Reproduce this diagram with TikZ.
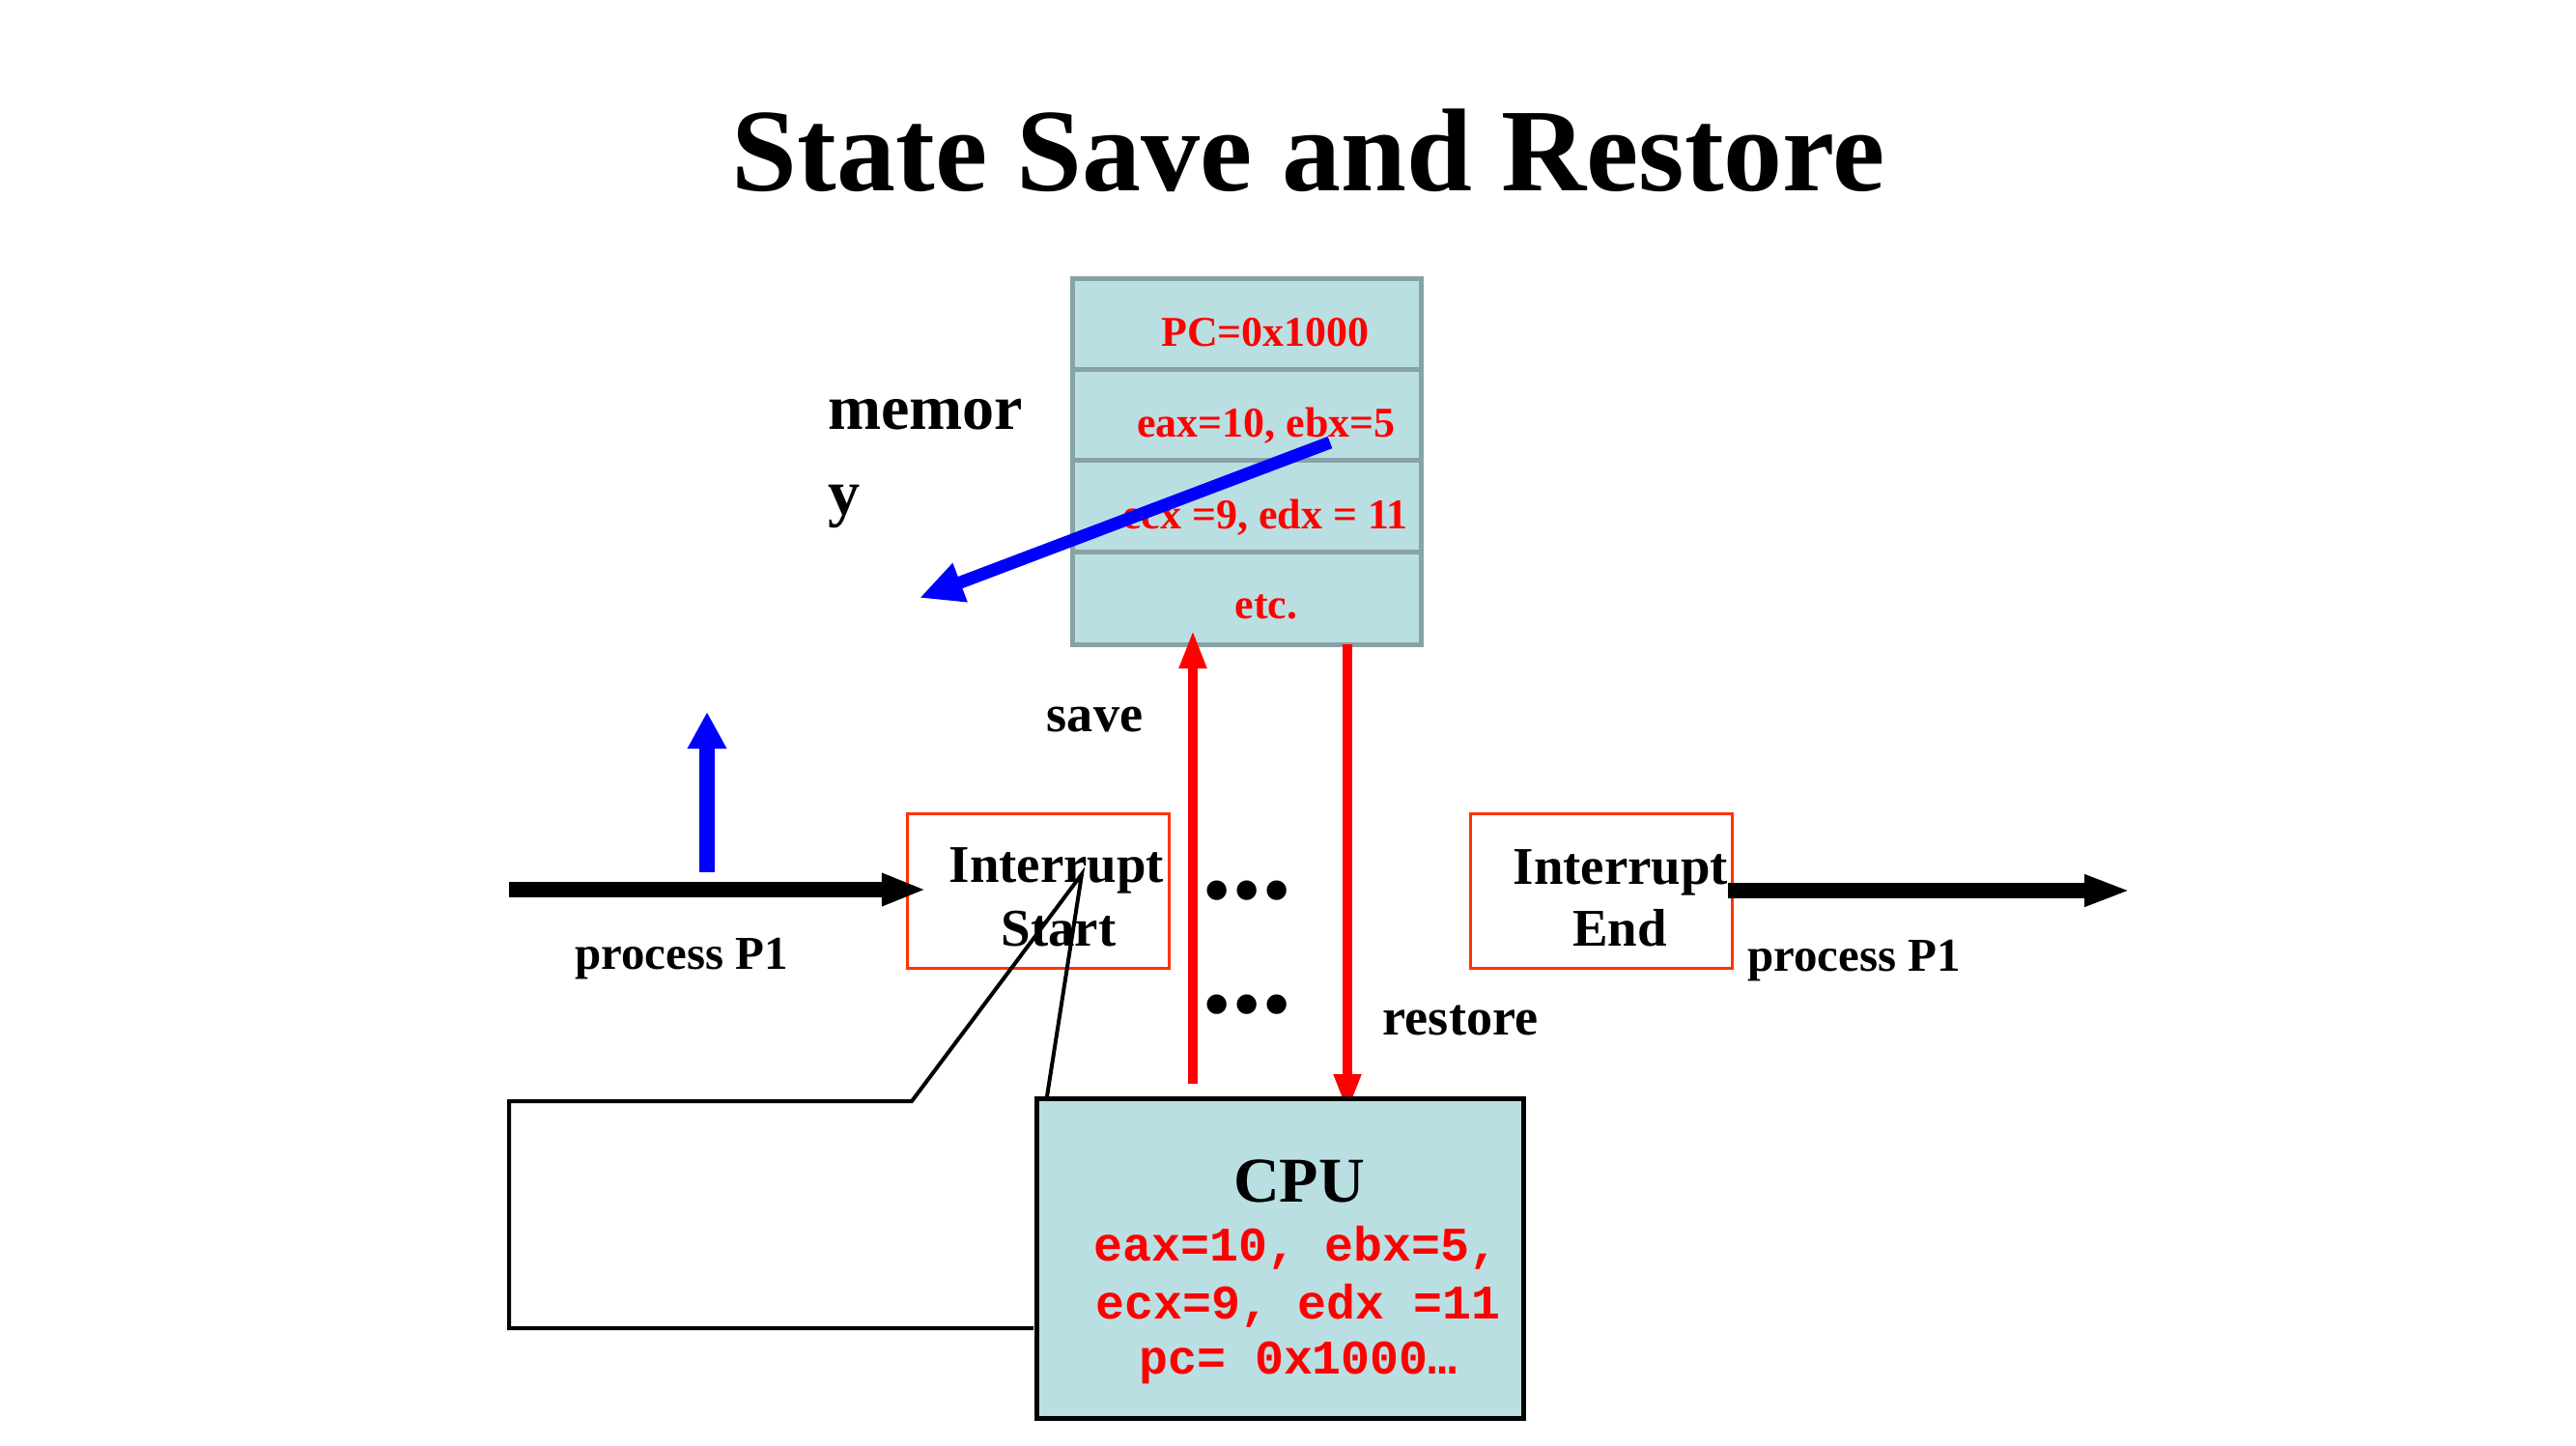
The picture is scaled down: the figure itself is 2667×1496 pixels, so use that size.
\documentclass[tikz,border=0pt]{standalone}
\usepackage{fontspec}
\setmainfont{Liberation Serif}
\setmonofont{Liberation Mono}
\usetikzlibrary{arrows.meta}
\definecolor{cellfill}{HTML}{BADFE2}
\definecolor{cellline}{HTML}{87A3A5}
\definecolor{boxred}{HTML}{FF3300}
\newcommand{\fsz}[1]{\fontsize{#1pt}{#1pt}\selectfont}
\begin{document}
\begin{tikzpicture}[x=0.01cm,y=-0.01cm,
  txt/.style={inner sep=0pt, outer sep=0pt, anchor=base, font=\bfseries},
  cell/.style={draw=cellline, fill=cellfill, line width=1.42pt, minimum width=3.6cm, inner sep=0pt, outer sep=0pt},
  memtxt/.style={txt, text=red, font=\fsz{12.5}\bfseries},
  lbl/.style={txt, font=\fsz{15.4}\bfseries},
  intbox/.style={draw=boxred, line width=0.85pt, minimum width=2.7cm, minimum height=1.59cm, inner sep=0pt, outer sep=0pt},
  inttxt/.style={txt, font=\fsz{15.6}\bfseries},
  proctxt/.style={txt, font=\fsz{13.9}\bfseries},
  regtxt/.style={txt, text=red, font=\fsz{14.2}\ttfamily\bfseries},
  blackarrow/.style={draw=black, line width=0.16cm},
  redarrow/.style={draw=red, line width=0.105cm, -{Triangle[length=0.40cm,width=0.26cm]}},
  bluearrow/.style={draw=blue},
  dotstxt/.style={txt, font=\fsz{35.6}\bfseries}
]
\useasboundingbox (0,0) rectangle (2667,1496);

% title
\node[txt, font=\fsz{34.7}\bfseries] (title) at (1355,197) {State Save and Restore};

% memory cells
\node[cell, minimum height=0.94cm] (m1) at (1291,336) {};
\node[cell, minimum height=0.94cm] (m2) at (1291,430) {};
\node[cell, minimum height=0.95cm] (m3) at (1291,524.5) {};
\node[cell, minimum height=0.95cm] (m4) at (1291,619.5) {};
\node[memtxt] (t1) at (1310,358) {PC=0x1000};
\node[memtxt] (t2) at (1311,452) {eax=10, ebx=5};
\node[memtxt] (t3) at (1310,547) {ecx =9, edx = 11};
\node[memtxt] (t4) at (1311,640) {etc.};

% memory label
\node[txt, anchor=base west, font=\fsz{18.8}\bfseries] (mem1) at (857,444) {memor};
\node[txt, anchor=base west, font=\fsz{18.8}\bfseries] (mem2) at (857,532) {y};

% blue diagonal arrow
\coordinate (bs) at (1377,458);
\coordinate (be) at (952,619);
\draw[bluearrow, line width=0.13cm, -{Triangle[length=0.45cm,width=0.40cm]}] (bs) -- (be);

% blue vertical arrow
\coordinate (vb) at (732,903);
\coordinate (vt) at (732,737);
\draw[bluearrow, line width=0.16cm, -{Triangle[length=0.38cm,width=0.38cm]}] (vb) -- (vt);

% interrupt boxes
\node[intbox] (is) at (1075,922.5) {};
\node[intbox] (ie) at (1658,922.5) {};
\node[inttxt] (is1) at (1094,913) {Interrupt};
\node[inttxt] (is2) at (1096,979) {Start};
\node[inttxt] (ie1) at (1678,915) {Interrupt};
\node[inttxt] (ie2) at (1677,979) {End};

% process arrows
\coordinate (pl) at (527,921);
\coordinate (pt) at (959,921);
\draw[blackarrow, -{Triangle[length=0.46cm,width=0.31cm]}] (pl) -- (pt);
\coordinate (rs) at (1789,922);
\coordinate (rt) at (2206,922);
\draw[blackarrow, -{Triangle[length=0.48cm,width=0.30cm]}] (rs) -- (rt);
\node[proctxt] (p1) at (705.5,1003) {process P1};
\node[proctxt] (p2) at (1919.5,1005) {process P1};

% save / restore
\coordinate (sb) at (1235,1122);
\coordinate (st) at (1235,652);
\draw[redarrow] (sb) -- (st);
\coordinate (rb) at (1395,667);
\coordinate (re) at (1395,1152);
\draw[redarrow] (rb) -- (re);
\node[lbl] (save) at (1133.5,757) {save};
\node[lbl] (restore) at (1512,1071) {restore};

% dots
\node[dotstxt] (d1) at (1291,930) {...};
\node[dotstxt] (d2) at (1291,1048) {...};

% callout
\coordinate (c1) at (1070,1375);
\coordinate (c2) at (527,1375);
\coordinate (c3) at (527,1140);
\coordinate (c4) at (944,1140);
\coordinate (c5) at (1120,905);
\coordinate (c6) at (1084,1135);
\draw[line width=0.04cm, black] (c1) -- (c2) -- (c3) -- (c4) -- (c5) -- (c6);

% CPU
\node[draw=black, fill=cellfill, line width=1.42pt, minimum width=5.04cm, minimum height=3.31cm, inner sep=0pt, outer sep=0pt] (cpu) at (1325.5,1303) {};
\node[txt, font=\fsz{18.8}\bfseries] (cpul) at (1345,1244) {CPU};
\node[regtxt] (r1) at (1342,1305) {eax=10, ebx=5,};
\node[regtxt] (r2) at (1344,1365) {ecx=9, edx =11};
\node[regtxt] (r3) at (1344,1422) {pc= 0x1000…};
\end{tikzpicture}
\end{document}
